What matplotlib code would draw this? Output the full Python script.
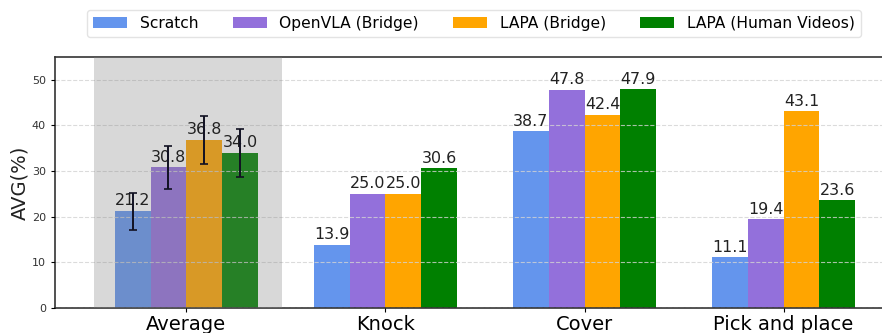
import matplotlib
matplotlib.use("Agg")
import matplotlib.pyplot as plt
import numpy as np

categories = ["Average", "Knock", "Cover", "Pick and place"]
series_names = ["Scratch", "OpenVLA (Bridge)", "LAPA (Bridge)", "LAPA (Human Videos)"]
scratch = [21.2, 13.9, 38.7, 11.1]
openvla = [30.8, 25.0, 47.8, 19.4]
lapa_bridge = [36.8, 25.0, 42.4, 43.1]
lapa_human = [34.0, 30.6, 47.9, 23.6]
avg_err = [4.1, 4.8, 5.3, 5.2]   # error bars on the Average group only
colors = ["cornflowerblue", "mediumpurple", "orange", "green"]

series = [scratch, openvla, lapa_bridge, lapa_human]

fig = plt.figure(figsize=(8.82, 3.33), dpi=100)
ax = fig.add_axes([55/882, 1-308/333, 860/882, (308-57)/333])

x = np.arange(len(categories))
width = 0.18
offsets = (np.arange(4) - 1.5) * width

for i, (vals, name, c) in enumerate(zip(series, series_names, colors)):
    ax.bar(x + offsets[i], vals, width, color=c, label=name, zorder=2)
    for xi, v in zip(x + offsets[i], vals):
        ax.annotate(f"{v:.1f}", (xi, v), xytext=(0, 2), textcoords="offset points",
                    ha="center", va="bottom", fontsize=11.4, color="#222222", zorder=5)
    ax.errorbar(x[0] + offsets[i], vals[0], yerr=avg_err[i], fmt="none",
                ecolor="#111122", elinewidth=1.4, capsize=3, capthick=1.2, zorder=6)

ax.axvspan(-0.465, 0.48, color="gray", alpha=0.3, lw=0, zorder=3)

ax.set_xlim(-0.66, 3.66)
ax.set_ylim(0, 55)
ax.set_yticks([0, 10, 20, 30, 40, 50])
ax.set_xticks(x)
ax.set_xticklabels(categories, fontsize=14)
ax.tick_params(axis="y", labelsize=8, labelcolor="#333333", length=3)
ax.tick_params(axis="x", length=3, pad=2)
ax.set_ylabel("AVG(%)", fontsize=14, color="#222222", labelpad=2)
ax.yaxis.grid(True, linestyle="--", color="lightgray", linewidth=0.8, alpha=0.8, zorder=4)
ax.set_axisbelow(False)
for s in ax.spines.values():
    s.set_color("#333333")
    s.set_linewidth(1.2)

fig.legend(loc="upper center", bbox_to_anchor=(474/882, 1-2/333), ncol=4,
           fontsize=11.2, columnspacing=2.2, handlelength=2.2, frameon=True,
           edgecolor="#dddddd")

fig.savefig("out.png", dpi=100)
